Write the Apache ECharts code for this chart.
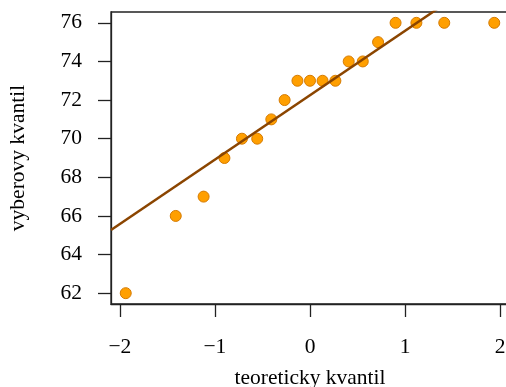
<!DOCTYPE html>
<html><head><meta charset="utf-8">
<script src="https://cdn.jsdelivr.net/npm/echarts@6/dist/echarts.min.js"></script>
<style>html,body{margin:0;padding:0;background:#fff}#c{width:506px;height:387px}</style>
</head><body><div id="c"></div>
<script>
var theoretical = [-1.938, -1.412, -1.119, -0.900, -0.716, -0.555, -0.407, -0.267, -0.132, 0, 0.132, 0.267, 0.407, 0.555, 0.716, 0.900, 1.119, 1.412, 1.938];
var sample = [62, 66, 67, 69, 70, 70, 71, 72, 73, 73, 73, 73, 74, 74, 75, 76, 76, 76, 76];
var xTicks = [-2, -1, 0, 1, 2];
var yTicks = [62, 64, 66, 68, 70, 72, 74, 76];
var xTitle = 'teoreticky kvantil';
var yTitle = 'vyberovy kvantil';

// qqline through quartiles
function q7(a, p){ var s=a.slice().sort(function(x,y){return x-y;}); var h=(s.length-1)*p; var lo=Math.floor(h); return s[lo]+(h-lo)*((s[lo+1]!==undefined?s[lo+1]:s[lo])-s[lo]); }
var zq = 0.6744898;
var y1 = q7(sample, 0.25), y2 = q7(sample, 0.75);
var slope = (y2 - y1) / (2 * zq);
var intercept = y1 + slope * zq;
var xmin = -2.093, xmax = 2.093, ymin = 61.44, ymax = 76.56;
var lineData = [[xmin, intercept + slope * xmin], [xmax, intercept + slope * xmax]];

var font = 'Liberation Serif';
function fmt(v){ return String(v).replace('-', '\u2212'); }
var chart = echarts.init(document.getElementById('c'), null, {renderer:'canvas'});
chart.setOption({
  animation: false,
  grid: { left: 111, top: 12, width: 398, height: 292, show: true, borderColor: '#222', borderWidth: 1.3, backgroundColor: 'transparent', containLabel: false, outerBoundsMode: 'none' },
  xAxis: {
    type: 'value', min: xmin, max: xmax,
    name: xTitle, nameLocation: 'middle', nameGap: 63,
    nameTextStyle: { fontFamily: font, fontSize: 21.5, color: '#000' },
    axisLine: { show: true, onZero: false, lineStyle: { color: '#222', width: 1.3 } },
    axisTick: { show: true, length: 13, customValues: xTicks, lineStyle: { color: '#222', width: 1.3 } },
    axisLabel: { customValues: xTicks, margin: 32, fontFamily: font, fontSize: 21.5, color: '#000', formatter: fmt },
    splitLine: { show: false }
  },
  yAxis: {
    type: 'value', min: ymin, max: ymax,
    name: yTitle, nameLocation: 'middle', nameGap: 82, nameRotate: 90,
    nameTextStyle: { fontFamily: font, fontSize: 21.5, color: '#000' },
    axisLine: { show: true, onZero: false, lineStyle: { color: '#222', width: 1.3 } },
    axisTick: { show: true, length: 13, customValues: yTicks, lineStyle: { color: '#222', width: 1.3 } },
    axisLabel: { customValues: yTicks, margin: 29, fontFamily: font, fontSize: 21.5, color: '#000', formatter: fmt },
    splitLine: { show: false }
  },
  series: [
    { type: 'line', data: lineData, symbol: 'none', clip: true, z: 3,
      lineStyle: { color: '#8B4500', width: 2.5 } },
    { type: 'scatter', data: theoretical.map(function(x,i){ return [x, sample[i]]; }), symbolSize: 11, z: 2,
      itemStyle: { color: '#FF9F00', borderColor: '#D47A00', borderWidth: 1, opacity: 1 } }
  ]
});
</script></body></html>
